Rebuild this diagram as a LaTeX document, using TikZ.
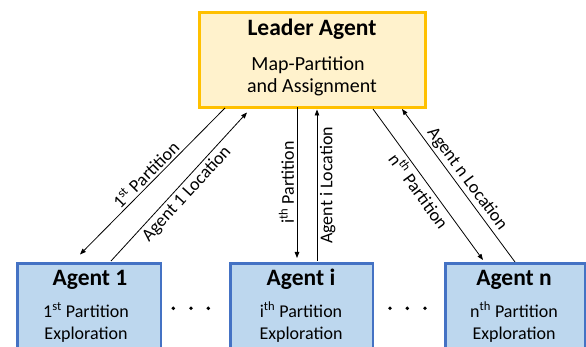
\documentclass[tikz,border=0pt]{standalone}
\usepackage{fontspec}
\setmainfont{Carlito}
\usetikzlibrary{arrows.meta}
\definecolor{leaderfill}{HTML}{FFF2CC}
\definecolor{leaderdraw}{HTML}{FFC000}
\definecolor{agentfill}{HTML}{BDD7EE}
\definecolor{agentdraw}{HTML}{4472C4}
\begin{document}
\begin{tikzpicture}[x=1pt,y=-1pt,
 leaderbox/.style={draw=leaderdraw,fill=leaderfill,line width=3pt,inner sep=0},
 agentbox/.style={draw=agentdraw,fill=agentfill,line width=2.5pt,inner sep=0},
 title/.style={font=\fontsize{23.5}{27}\selectfont\bfseries, anchor=base, inner sep=0},
 lbody/.style={font=\fontsize{20}{24}\selectfont, anchor=base, inner sep=0},
 body/.style={font=\fontsize{18}{22}\selectfont, anchor=base, inner sep=0},
 lbl/.style={font=\fontsize{18}{21}\selectfont, sloped, midway, inner sep=2.5pt},
 conn/.style={line width=0.8pt, -{Triangle[length=6pt,width=4.5pt]}},
 connrev/.style={line width=0.8pt, {Triangle[length=6pt,width=4.5pt]}-},
 dotmark/.style={circle, fill=black, inner sep=0, minimum size=3.8pt}]
\useasboundingbox (0,0) rectangle (586,347);
\fill[white] (0,0) rectangle (586,347);
% boxes
\node[leaderbox, minimum width=226pt, minimum height=95pt, anchor=north west] (leader) at (197.5,11.5) {};
\node[agentbox, minimum width=143.5pt, minimum height=95pt, anchor=north west] (agent1) at (16.25,262.25) {};
\node[agentbox, minimum width=142.5pt, minimum height=95pt, anchor=north west] (agenti) at (229.25,262.25) {};
\node[agentbox, minimum width=139.5pt, minimum height=95pt, anchor=north west] (agentn) at (444.25,262.25) {};
% leader texts
\node[title] (leadertitle) at (312,36) {Leader Agent};
\node[lbody] (leaderl1) at (308,71) {Map-Partition};
\node[lbody] (leaderl2) at (312,93) {and Assignment};
% agent texts
\node[title] (a1title) at (90,286) {Agent 1};
\node[body] (a1l1) at (86,317) {1\textsuperscript{st} Partition};
\node[body] (a1l2) at (86,339) {Exploration};
\node[title] (aititle) at (301,286) {Agent i};
\node[body] (ail1) at (301,317) {i\textsuperscript{th} Partition};
\node[body] (ail2) at (301,339) {Exploration};
\node[title] (antitle) at (514,286) {Agent n};
\node[body] (anl1) at (514,317) {n\textsuperscript{th} Partition};
\node[body] (anl2) at (514,339) {Exploration};
% dots
\node[dotmark] (d11) at (173.3,308.3) {};
\node[dotmark] (d12) at (191,308.3) {};
\node[dotmark] (d13) at (208.3,308.3) {};
\node[dotmark] (d21) at (390,308.3) {};
\node[dotmark] (d22) at (407.3,308.3) {};
\node[dotmark] (d23) at (425,308.3) {};
% connector end points
\coordinate (p1s) at (225,108);
\coordinate (p1e) at (80,254.5);
\coordinate (l1s) at (111,261);
\coordinate (l1e) at (247,112.5);
\coordinate (pis) at (297,107);
\coordinate (pie) at (297,258);
\coordinate (lis) at (317,261);
\coordinate (lie) at (317,109.5);
\coordinate (pns) at (373,109);
\coordinate (pne) at (483,260);
\coordinate (lns) at (515,262);
\coordinate (lne) at (402,109);
% connectors
\draw[conn] (p1s) -- node[lbl, above] {1\textsuperscript{st} Partition} (p1e);
\draw[conn] (l1s) -- node[lbl, below] {Agent 1 Location} (l1e);
\draw[connrev] (pie) -- node[lbl, above] {i\textsuperscript{th} Partition} (pis);
\draw[conn] (lis) -- node[lbl, below] {Agent i Location} (lie);
\draw[conn] (pns) -- node[lbl, below] {n\textsuperscript{th} Partition} (pne);
\draw[conn] (lns) -- node[lbl, above] {Agent n Location} (lne);
\end{tikzpicture}
\end{document}
